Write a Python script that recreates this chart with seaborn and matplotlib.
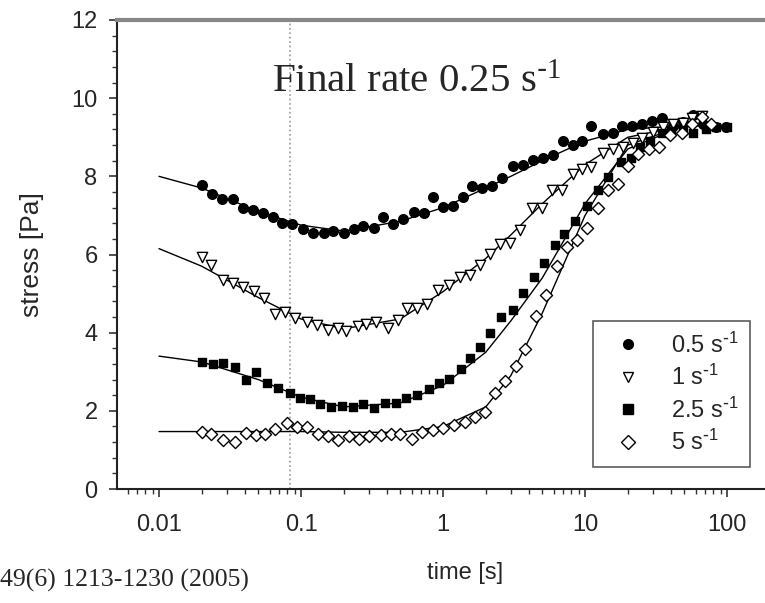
import numpy as np
import pandas as pd
import matplotlib
matplotlib.use('Agg')
import matplotlib.pyplot as plt
from matplotlib.lines import Line2D
from matplotlib.ticker import FixedLocator, MultipleLocator, LogLocator, NullFormatter
import seaborn as sns

t_05 = [0.020, 0.0235, 0.0277, 0.0333, 0.0389, 0.0457, 0.0543, 0.0631, 0.074, 0.087,
        0.103, 0.121, 0.144, 0.169, 0.200, 0.235, 0.275, 0.324, 0.376, 0.442,
        0.52, 0.62, 0.73, 0.845, 0.995, 1.17, 1.38, 1.59, 1.87, 2.20,
        2.59, 3.09, 3.64, 4.29, 5.04, 5.93, 6.97, 8.18, 9.48, 11.1,
        13.3, 15.7, 18.1, 21.3, 25.1, 29.5, 34.7, 41.7, 49.0, 57.5, 67.6, 83.2, 97.7]
s_05 = [7.78, 7.54, 7.41, 7.41, 7.20, 7.14, 7.07, 6.96, 6.81, 6.78,
        6.66, 6.56, 6.56, 6.59, 6.56, 6.66, 6.73, 6.69, 6.96, 6.78,
        6.90, 7.09, 7.05, 7.46, 7.22, 7.24, 7.48, 7.75, 7.69, 7.75,
        7.95, 8.26, 8.29, 8.41, 8.48, 8.54, 8.91, 8.80, 8.91, 9.28,
        9.08, 9.10, 9.28, 9.28, 9.33, 9.42, 9.48, 9.30, 9.39, 9.56, 9.35, 9.27, 9.27]

t_1 = [0.020, 0.0234, 0.0282, 0.0331, 0.0389, 0.0468, 0.055, 0.066, 0.0776, 0.0912,
       0.110, 0.129, 0.155, 0.182, 0.209, 0.251, 0.288, 0.339, 0.407, 0.479,
       0.555, 0.653, 0.767, 0.927, 1.11, 1.32, 1.55, 1.82, 2.14, 2.51,
       2.95, 3.47, 4.22, 4.95, 5.82, 6.86, 8.18, 9.55, 11.1, 13.3,
       15.8, 18.6, 21.9, 25.1, 30.2, 35.5, 41.7, 49.0, 56.2, 66.1]
s_1 = [5.93, 5.73, 5.35, 5.28, 5.17, 5.07, 4.88, 4.49, 4.53, 4.37,
       4.28, 4.19, 4.07, 4.11, 4.05, 4.17, 4.22, 4.28, 4.11, 4.32,
       4.62, 4.64, 4.73, 5.09, 5.22, 5.43, 5.47, 5.73, 6.01, 6.28,
       6.30, 6.62, 7.18, 7.18, 7.66, 7.65, 8.05, 8.18, 8.24, 8.60,
       8.69, 8.75, 8.86, 8.97, 9.14, 9.25, 9.35, 9.37, 9.48, 9.54]

t_25 = [0.020, 0.024, 0.0282, 0.0343, 0.0407, 0.0479, 0.0575, 0.0692, 0.0832, 0.0977,
        0.115, 0.135, 0.162, 0.195, 0.234, 0.275, 0.324, 0.389, 0.468, 0.550,
        0.653, 0.794, 0.933, 1.10, 1.33, 1.55, 1.82, 2.14, 2.57, 3.09,
        3.63, 4.37, 5.13, 6.17, 7.08, 8.51, 10.4, 12.3, 14.5, 17.8,
        20.9, 24.5, 28.8, 34.7, 40.0, 49.0, 57.5, 70.8, 83.2, 100.0]
s_25 = [3.26, 3.20, 3.23, 3.11, 2.79, 3.00, 2.70, 2.58, 2.46, 2.32,
        2.29, 2.17, 2.09, 2.12, 2.09, 2.17, 2.06, 2.21, 2.21, 2.32,
        2.40, 2.55, 2.70, 2.81, 3.06, 3.34, 3.64, 4.00, 4.41, 4.58,
        5.02, 5.43, 5.77, 6.24, 6.52, 6.86, 7.24, 7.65, 7.99, 8.37,
        8.46, 8.75, 8.90, 9.10, 9.15, 9.18, 9.10, 9.22, 9.27, 9.27]

t_5 = [0.020, 0.0234, 0.0282, 0.0343, 0.0407, 0.0479, 0.0562, 0.0661, 0.0794, 0.0933,
       0.111, 0.132, 0.155, 0.182, 0.219, 0.257, 0.302, 0.363, 0.427, 0.501,
       0.603, 0.708, 0.851, 1.00, 1.20, 1.43, 1.68, 1.98, 2.32, 2.75,
       3.24, 3.80, 4.52, 5.31, 6.31, 7.41, 8.71, 10.4, 12.3, 14.5,
       17.2, 20.2, 23.7, 28.2, 33.1, 39.8, 47.9, 56.2, 66.1, 77.6]
s_5 = [1.47, 1.42, 1.25, 1.21, 1.44, 1.38, 1.41, 1.53, 1.70, 1.59,
       1.58, 1.41, 1.36, 1.25, 1.36, 1.27, 1.36, 1.38, 1.41, 1.41,
       1.27, 1.47, 1.51, 1.55, 1.64, 1.72, 1.83, 1.98, 2.45, 2.77,
       3.15, 3.57, 4.42, 4.96, 5.70, 6.20, 6.37, 6.69, 7.20, 7.66,
       7.80, 8.26, 8.57, 8.71, 8.75, 9.05, 9.10, 9.35, 9.52, 9.33]

# fitted curves
fit_t = [0.01, 0.02, 0.05, 0.1, 0.2, 0.5, 1, 2, 3, 5, 10, 20, 50, 100]
fit_05 = [8.0, 7.7, 7.1, 6.75, 6.6, 6.85, 7.2, 7.7, 8.0, 8.4, 8.9, 9.2, 9.3, 9.3]
fit_1 = [6.15, 5.7, 4.9, 4.35, 4.1, 4.35, 5.05, 5.9, 6.5, 7.3, 8.3, 9.0, 9.3, 9.3]
fit_25 = [3.4, 3.25, 2.8, 2.35, 2.1, 2.2, 2.65, 3.5, 4.3, 5.4, 7.3, 8.7, 9.3, 9.3]
fit_5 = [1.47, 1.47, 1.47, 1.47, 1.45, 1.45, 1.6, 2.1, 2.9, 4.5, 7.0, 8.8, 9.3, 9.3]

labels = ['0.5 s$^{\\text{-}1}$', '1 s$^{\\text{-}1}$', '2.5 s$^{\\text{-}1}$', '5 s$^{\\text{-}1}$']
markers = ['o', 'v', 's', 'D']
filled = [True, False, True, False]
sizes = [48, 55, 40, 38]
t_marker = 0.084

sns.set_theme(style='white')
plt.rcParams['font.family'] = ['Liberation Sans', 'DejaVu Sans']
plt.rcParams['mathtext.default'] = 'regular'

fig = plt.figure(figsize=(7.65, 6.03), dpi=100)
ax = fig.add_axes([117 / 765, 1 - 489 / 603, 1 - 117 / 765, (489 - 20) / 603])

series = [(t_05, s_05), (t_1, s_1), (t_25, s_25), (t_5, s_5)]
fits = [fit_05, fit_1, fit_25, fit_5]

for f in fits:
    sns.lineplot(x=fit_t, y=f, ax=ax, color='black', linewidth=1.0, sort=False)

for (t, s), m, fl, sz in zip(series, markers, filled, sizes):
    df = pd.DataFrame({'t': t, 's': s})
    sns.scatterplot(data=df, x='t', y='s', ax=ax, marker=m, s=sz,
                    facecolor='black' if fl else 'white', edgecolor='black',
                    linewidth=1.0, zorder=3)

ax.axvline(t_marker, color='#999999', linestyle=':', linewidth=1.2, zorder=1)

ax.set_xscale('log')
ax.set_xlim(0.00506, 185)
ax.set_ylim(0, 12)
ax.xaxis.set_major_locator(FixedLocator([0.01, 0.1, 1, 10, 100]))
ax.set_xticklabels(['0.01', '0.1', '1', '10', '100'])
ax.xaxis.set_minor_locator(LogLocator(base=10, subs=np.arange(2, 10), numticks=20))
ax.xaxis.set_minor_formatter(NullFormatter())
ax.yaxis.set_major_locator(MultipleLocator(2))
ax.yaxis.set_minor_locator(MultipleLocator(0.4))

ax.tick_params(axis='both', which='major', direction='out', length=6, width=1.2,
               color='#333333', labelsize=17, left=True, bottom=True)
ax.tick_params(axis='x', which='major', pad=12)
ax.tick_params(axis='y', which='major', pad=8)
ax.tick_params(axis='both', which='minor', direction='out', length=3.5, width=1.0,
               color='#333333', left=True, bottom=True)

for side in ['left', 'bottom']:
    ax.spines[side].set_color('#222222')
    ax.spines[side].set_linewidth(1.5)
ax.spines['top'].set_color('#888888')
ax.spines['top'].set_linewidth(3)
ax.spines['right'].set_visible(False)

ax.set_ylabel('stress [Pa]', fontsize=19)
ax.yaxis.set_label_coords(-(117 - 32) / 648, 0.5)
ax.set_xlabel('time [s]', fontsize=17)
ax.xaxis.set_label_coords((465 - 117) / 648, -(573 - 489) / 469)
ax.xaxis.label.set_va('center')
ax.yaxis.label.set_va('center')

handles = [Line2D([], [], linestyle='none', marker=m, markersize=7,
                  markerfacecolor='black' if fl else 'white', markeredgecolor='black')
           for m, fl in zip(markers, filled)]
leg = ax.legend(handles, labels, loc='lower right', bbox_to_anchor=(0.977, 0.047),
                borderaxespad=0, fontsize=17, frameon=True, fancybox=False,
                edgecolor='#333333', handletextpad=0.8, labelspacing=0.31, borderpad=0.5)
leg.get_frame().set_linewidth(1.2)

ax.text(0.0625, 10.4, 'Final rate 0.25 s$^{\\text{-}1}$', family='Liberation Serif', fontsize=29.5,
        ha='left', va='center')
fig.text(0.0, 1 - 580 / 603, '49(6) 1213-1230 (2005)', family='Liberation Serif',
         fontsize=18.5, ha='left', va='center')

fig.savefig('out.png', dpi=100)
